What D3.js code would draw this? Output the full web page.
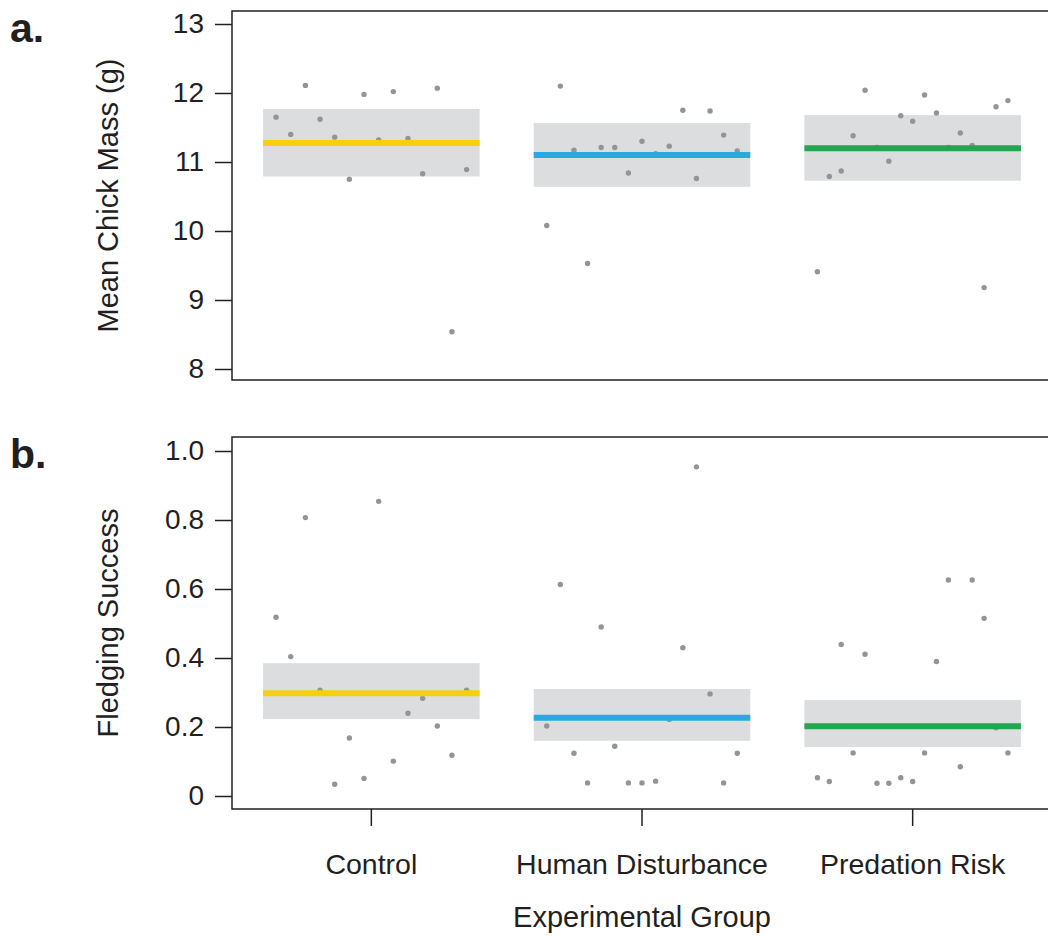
<!DOCTYPE html>
<html>
<head>
<meta charset="utf-8">
<script src="https://cdn.jsdelivr.net/npm/d3@7"></script>
<style>
  html, body { margin: 0; padding: 0; background: #fff; }
  svg text { font-family: "Liberation Sans", Arial, Helvetica, sans-serif; fill: #231f20; }
</style>
</head>
<body>
<svg id="chart" width="1048" height="936"></svg>
<script>
// Experimental groups
const groups = ["Control", "Human Disturbance", "Predation Risk"];
const groupColors = ["#f6cf10", "#27aae1", "#22a64f"];

// (a) mean chick mass per nest, g
const massControl = [11.65, 11.40, 12.11, 11.62, 11.36, 10.75, 11.98, 11.32, 12.02, 11.34, 10.83, 12.07, 8.54, 10.89];
const massHuman = [10.08, 12.10, 11.17, 9.53, 11.21, 11.21, 10.84, 11.30, 11.12, 11.23, 11.75, 10.76, 11.74, 11.39, 11.16];
const massPredation = [9.41, 10.79, 10.87, 11.38, 12.04, 11.21, 11.01, 11.67, 11.59, 11.97, 11.71, 11.21, 11.42, 11.24, 9.18, 11.80, 11.89];
const massMean = [11.275, 11.10, 11.20];
const massLower = [10.79, 10.64, 10.73];
const massUpper = [11.77, 11.565, 11.68];
const massTicks = [8, 9, 10, 11, 12, 13];
const massTickLabels = ["8", "9", "10", "11", "12", "13"];

// (b) fledging success per nest
const fledgeControl = [0.518, 0.404, 0.807, 0.307, 0.034, 0.168, 0.051, 0.854, 0.101, 0.240, 0.283, 0.203, 0.118, 0.307];
const fledgeHuman = [0.203, 0.613, 0.124, 0.038, 0.490, 0.144, 0.038, 0.038, 0.043, 0.222, 0.430, 0.954, 0.296, 0.038, 0.124];
const fledgePredation = [0.053, 0.042, 0.439, 0.125, 0.411, 0.037, 0.037, 0.053, 0.042, 0.125, 0.390, 0.626, 0.085, 0.626, 0.515, 0.198, 0.125];
const fledgeMean = [0.298, 0.227, 0.202];
const fledgeLower = [0.223, 0.160, 0.142];
const fledgeUpper = [0.385, 0.310, 0.278];
const fledgeTicks = [0, 0.2, 0.4, 0.6, 0.8, 1.0];
const fledgeTickLabels = ["0", "0.2", "0.4", "0.6", "0.8", "1.0"];

const svg = d3.select("#chart");
const W = 1048;
const frameLeft = 232;
const ink = "#231f20";
const tickFont = 28;
const categoryFont = 28.5;
const titleFont = 29;

const x = d3.scaleBand()
  .domain(groups)
  .range([236, W])
  .paddingInner(0.2)
  .paddingOuter(0.1);

function panel(opts) {
  const g = svg.append("g");
  const y = d3.scaleLinear().domain(opts.domain).range(opts.yRange);

  // confidence bands
  g.selectAll("rect.ci")
    .data(groups)
    .join("rect")
    .attr("class", "ci")
    .attr("x", d => x(d))
    .attr("width", x.bandwidth())
    .attr("y", (d, i) => y(opts.upper[i]))
    .attr("height", (d, i) => y(opts.lower[i]) - y(opts.upper[i]))
    .attr("fill", "#dcdddf");

  // individual nests, spread evenly across each band
  groups.forEach((grp, gi) => {
    const vals = opts.series[gi];
    const inner = d3.scalePoint()
      .domain(d3.range(vals.length))
      .range([x(grp) + 13, x(grp) + x.bandwidth() - 13]);
    g.append("g").selectAll("circle")
      .data(vals)
      .join("circle")
      .attr("cx", (d, i) => inner(i))
      .attr("cy", d => y(d))
      .attr("r", 2.7)
      .attr("fill", "#939497");
  });

  // group means
  g.selectAll("line.mean")
    .data(groups)
    .join("line")
    .attr("class", "mean")
    .attr("x1", d => x(d))
    .attr("x2", d => x(d) + x.bandwidth())
    .attr("y1", (d, i) => y(opts.mean[i]))
    .attr("y2", (d, i) => y(opts.mean[i]))
    .attr("stroke", (d, i) => groupColors[i])
    .attr("stroke-width", 6);

  // frame (open at the right edge of the page)
  g.append("path")
    .attr("d", `M${W + 5},${opts.frame[0]}H${frameLeft}V${opts.frame[1]}H${W + 5}`)
    .attr("fill", "none")
    .attr("stroke", ink)
    .attr("stroke-width", 1.5);

  // y axis
  const yAxis = d3.axisLeft(y)
    .tickValues(opts.ticks)
    .tickFormat((d, i) => opts.tickLabels[i])
    .tickSize(17)
    .tickPadding(11);
  const ax = g.append("g").attr("transform", `translate(${frameLeft},0)`).call(yAxis);
  ax.select(".domain").remove();
  ax.selectAll(".tick line").attr("stroke", ink).attr("stroke-width", 1.5);
  ax.selectAll(".tick text").attr("font-size", tickFont).attr("fill", ink)
    .attr("font-family", "Liberation Sans, Arial, sans-serif");

  // y title
  const mid = (opts.frame[0] + opts.frame[1]) / 2;
  g.append("text")
    .attr("transform", `translate(118,${mid}) rotate(-90)`)
    .attr("text-anchor", "middle")
    .attr("font-size", titleFont)
    .text(opts.title);

  // panel letter
  g.append("text")
    .attr("x", 10)
    .attr("y", opts.letterY)
    .attr("font-size", 41)
    .attr("font-weight", "bold")
    .text(opts.letter);

  return g;
}

panel({
  domain: [8, 13], yRange: [369, 24], frame: [11, 380],
  series: [massControl, massHuman, massPredation],
  mean: massMean, lower: massLower, upper: massUpper,
  ticks: massTicks, tickLabels: massTickLabels,
  title: "Mean Chick Mass (g)", letter: "a.", letterY: 42
});

panel({
  domain: [0, 1], yRange: [796, 451], frame: [437, 809],
  series: [fledgeControl, fledgeHuman, fledgePredation],
  mean: fledgeMean, lower: fledgeLower, upper: fledgeUpper,
  ticks: fledgeTicks, tickLabels: fledgeTickLabels,
  title: "Fledging Success", letter: "b.", letterY: 468
});

// x axis along the bottom panel
const xAxis = d3.axisBottom(x).tickSize(17).tickPadding(28);
const xa = svg.append("g").attr("transform", "translate(0,809)").call(xAxis);
xa.select(".domain").remove();
xa.selectAll(".tick line").attr("stroke", ink).attr("stroke-width", 1.5);
xa.selectAll(".tick text").attr("font-size", categoryFont).attr("fill", ink)
  .attr("font-family", "Liberation Sans, Arial, sans-serif");

svg.append("text")
  .attr("x", x("Human Disturbance") + x.bandwidth() / 2)
  .attr("y", 927)
  .attr("text-anchor", "middle")
  .attr("font-size", titleFont)
  .text("Experimental Group");
</script>
</body>
</html>
